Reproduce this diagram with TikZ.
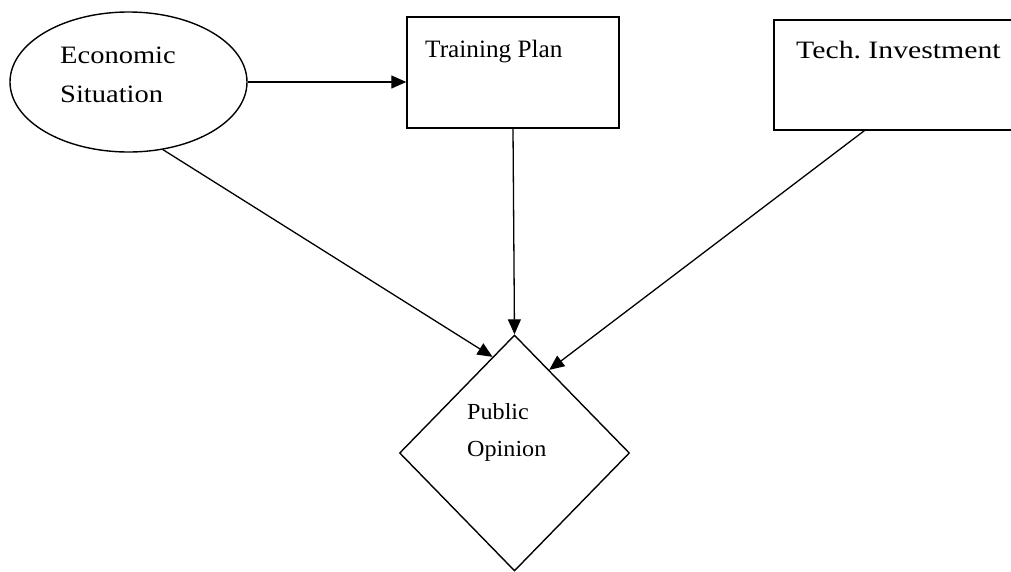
\documentclass[tikz,border=0pt]{standalone}
\usepackage{fontspec}
\setmainfont{Liberation Serif}
\usetikzlibrary{shapes.geometric,arrows.meta,calc}
\begin{document}
\begin{tikzpicture}[x=1pt,y=-1pt,
  shapeline/.style={draw=black, line width=1.4pt, inner sep=0pt},
  link/.style={draw=black, line width=1.3pt, -{Triangle[length=15pt,width=13pt]}},
  lbl/.style={anchor=base west, inner sep=0pt, font=\fontsize{25}{30}\selectfont},
]
\useasboundingbox (0,0) rectangle (1011,571);
\begin{scope}
  \clip (0,0) rectangle (1011,571);
  % shapes
  \node[ellipse, shapeline, minimum width=237pt, minimum height=140pt] (econ) at (128.5,82) {};
  \node[rectangle, shapeline, minimum width=212pt, minimum height=111pt] (train) at (513,72.5) {};
  \node[rectangle, shapeline, minimum width=250pt, minimum height=110pt] (tech) at (899,75) {};
  \node[diamond, shapeline, minimum width=230pt, minimum height=236pt] (opin) at (514.5,453) {};

  % labels
  \node[lbl] (econA) at (60,63) {\scalebox{1.14}[1]{Economic}};
  \node[lbl] (econB) at (60,102) {\scalebox{1.14}[1]{Situation}};
  \node[lbl] (trainT) at (425,57) {\scalebox{1.01}[1]{Training Plan}};
  \node[lbl] (techT) at (796,58) {\scalebox{1.19}[1]{Tech.\ Investment}};
  \node[lbl, font=\fontsize{23}{28}\selectfont] (opinA) at (467,419) {\scalebox{1.05}[1]{Public}};
  \node[lbl, font=\fontsize{23}{28}\selectfont] (opinB) at (467,456) {\scalebox{1.05}[1]{Opinion}};

  % connectors
  \coordinate (techout) at ($(tech.south west)+(91,0)$);
  \draw[link] (econ.east) -- (econ.east -| train.west);
  \draw[link] (econ.-63.4) -- ($(opin.north)!0.19!(opin.west)$);
  \draw[link] (train.south) -- (opin.north);
  \draw[link] (techout) -- ($(opin.north)!0.30!(opin.east)$);
\end{scope}
\end{tikzpicture}
\end{document}
